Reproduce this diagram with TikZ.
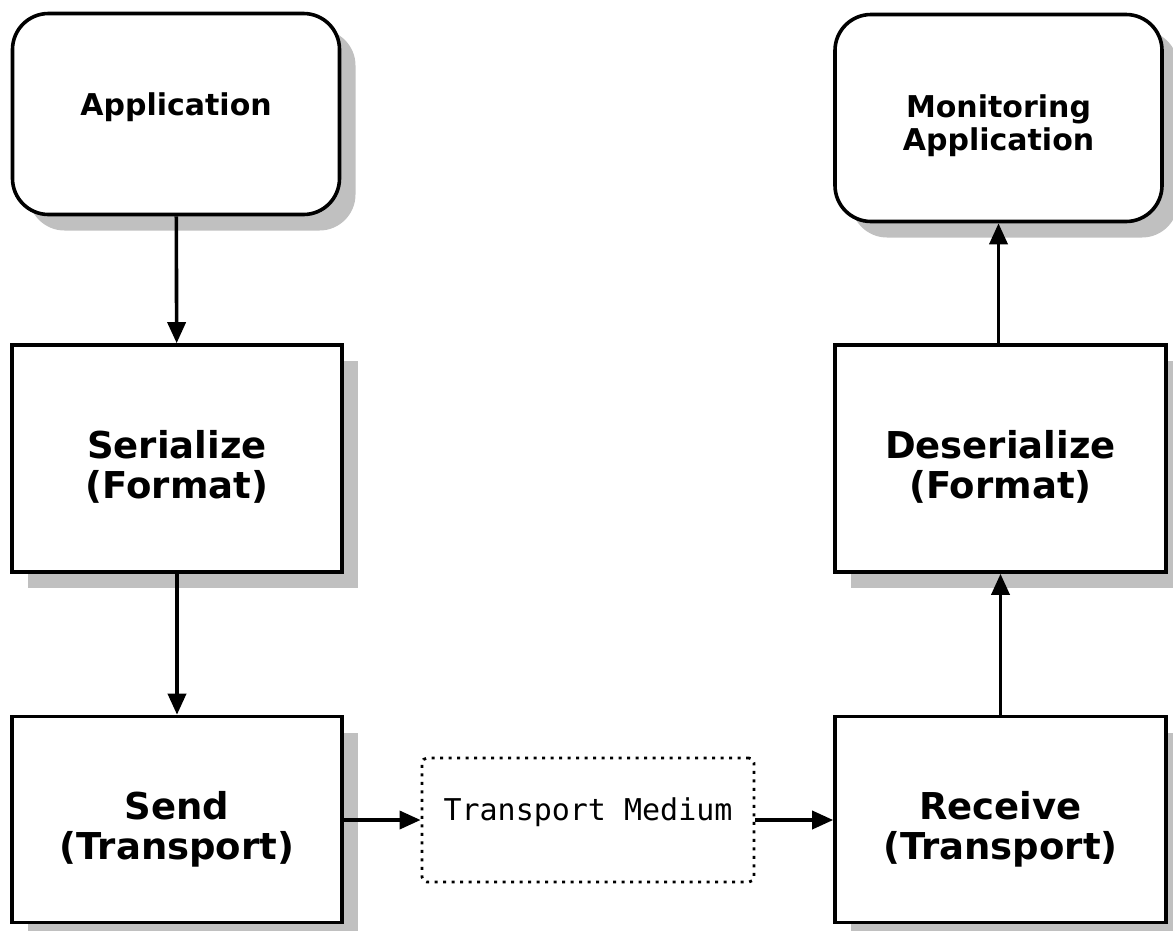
\documentclass[tikz,border=0pt]{standalone}
\usepackage{fontspec}
\setmainfont{DejaVu Sans}
\newfontfamily\medfont{DejaVu Sans Mono}
\usetikzlibrary{arrows.meta,shadows}
\definecolor{shade}{HTML}{C0C0C0}
\begin{document}
\begin{tikzpicture}[x=1pt,y=-1pt,line width=3.6pt,
  >={Triangle[length=21pt,width=18pt]},
  box/.style={draw,fill=white,inner sep=0pt,align=center,
    font=\bfseries\fontsize{37}{40}\selectfont,text height=85pt,text depth=5pt,
    drop shadow={shadow xshift=16pt,shadow yshift=-16pt,fill=shade,opacity=1}},
  appbox/.style={box,rounded corners=36pt,font=\bfseries\fontsize{30}{33}\selectfont},
  medium/.style={draw,dash pattern=on 3pt off 5.5pt,line width=2.8pt,rounded corners=5pt,
    font=\medfont\fontsize{30}{33}\selectfont,text height=23pt,text depth=23pt}]
\useasboundingbox (0,0) rectangle (1173,930);
\node (app) [appbox,minimum width=327pt,minimum height=201pt,text height=22pt,text depth=20pt] at (176,114) {Application};
\node (ser) [box,minimum width=330pt,minimum height=227pt] at (177,458.5) {Serialize\\(Format)};
\node (send) [box,minimum width=330pt,minimum height=206pt] at (177,819.5) {Send\\(Transport)};
\node (med) [medium,minimum width=332pt,minimum height=124pt] at (588,820) {Transport Medium};
\node (recv) [box,minimum width=331pt,minimum height=206pt] at (1000.5,819.5) {Receive\\(Transport)};
\node (deser) [box,minimum width=331pt,minimum height=227pt] at (1000.5,458.5) {Deserialize\\(Format)};
\node (mon) [appbox,minimum width=327pt,minimum height=207pt,text height=72pt,text depth=7pt] at (998.5,118) {Monitoring\\Application};
\draw[->] (app) -- (ser);
\draw[->] (ser) -- (send);
\draw[->] (send.east |- med.west) -- (med.west);
\draw[->] (med.east) -- (recv.west |- med.east);
\draw[->] (recv) -- (deser);
\draw[->] (deser.north -| mon.south) -- (mon.south);
\end{tikzpicture}
\end{document}
